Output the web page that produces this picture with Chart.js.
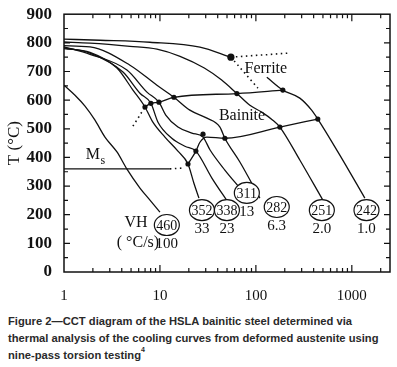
<!DOCTYPE html>
<html lang="en">
<head>
  <meta charset="UTF-8">
  <title>CCT diagram</title>
  <script src="https://cdn.jsdelivr.net/npm/chart.js"></script>
  <style>
    body { margin: 0; background: #fff; width: 397px; height: 367px; overflow: hidden; }
    #wrap { width: 397px; height: 300px; }
    .caption { font-family: "Liberation Sans", Arial, sans-serif; font-weight: bold; font-size: 11.2px; line-height: 17px; color: #2a2a2a; margin: 13px 0 0 8px; }
    .caption sup { font-size: 7px; vertical-align: top; line-height: 0; position: relative; top: 3px; }
  </style>
</head>
<body>
  <div id="wrap"><canvas id="cct" width="397" height="300"></canvas></div>
  <div class="caption">Figure 2&mdash;CCT diagram of the HSLA bainitic steel determined via<br>thermal analysis of the cooling curves from deformed austenite using<br>nine-pass torsion testing<sup>4</sup></div>

  <script>
    // cooling curves, [time (s), T (°C)]
    const curve460 = [[1,652],[1.302,617],[1.655,579],[2.104,530],[2.673,471],[3.565,419],[4.53,359],[6.19,293],[7.87,251],[10,209]];
    const curve352 = [[1,780],[1.866,767],[3.565,712],[5.23,635],[6.98,576],[8.44,523],[11.27,471],[15.4,422],[19.6,377],[22.6,310],[25.5,258]];
    const curve338 = [[1,783],[1.866,764],[4.118,698],[6.19,624],[8.05,589],[9.54,523],[13.3,467],[18.2,439],[23.7,422],[34.8,328],[51.1,244]];
    const curve311 = [[1,786],[1.866,760],[4.53,705],[7.32,628],[9.76,593],[11.5,548],[15.4,506],[21.5,485],[28.1,471],[33.3,426],[47.5,356],[68.1,293]];
    const curve282 = [[1,790],[1.866,786],[4.87,722],[9.31,652],[13.99,610],[20.5,565],[30.9,537],[42.2,506],[47.5,467],[68.1,384],[110,258]];
    const curve251 = [[1,803],[1.866,799],[4.87,788],[9.31,778],[16.2,753],[29,712],[44,670],[63.4,623],[86.6,582],[115,558],[150,530],[177.8,506],[287,391],[499,251]];
    const curve242a = [[1,813],[2.371,809],[7.87,802],[26.1,785],[54.9,750]];
    const curve242b = [[130,680],[191,635],[287,607],[381,565],[442,534],[750,408],[1366,258]];

    // transformation lines
    const bainiteStart = [[6.98,576],[8.05,589],[9.76,593],[13.99,610],[63.4,623],[191,635]];
    const bainiteStartDotted = [[5.23,509],[6.98,576]];
    const bainiteFinish = [[19.6,377],[23.7,422],[26.1,453],[30.9,471],[47.5,467],[177.8,506],[442,534]];
    const msLine = [[1,360],[12.7,360]];
    const msDotted = [[12.7,360],[17.4,363]];
    const ferriteDottedH = [[54.9,750],[215,764]];
    const ferriteDottedD = [[54.9,750],[104.9,642]];
    const dots = [[6.98,576],[8.05,589],[9.76,593],[13.99,610],[63.4,623],[191,635],
                  [19.6,377],[23.7,422],[28.1,481],[47.5,467],[177.8,506],[442,534],[54.9,750]];

    // hardness (VH) and cooling rate (°C/s) labels
    const hardness = ['460','352','338','311','282','251','242'];
    const rates = ['100','33','23','13','6.3','2.0','1.0'];
    const labelTime = [11.8,27.4,49.9,80.5,165,487,1422];
    const labelTemp = [164,216,216,276,227,216,216];

    const xTicks = [1, 10, 100, 1000];
    const serif = '"Liberation Serif", "Times New Roman", serif';
    const ink = '#111';

    const pts = arr => arr.map(p => ({x: p[0], y: p[1]}));
    const line = (arr, dashed) => ({
      data: pts(arr),
      borderColor: ink,
      borderWidth: dashed ? 1.6 : 1.3,
      borderDash: dashed ? [1.5, 3.5] : [],
      pointRadius: 0,
      cubicInterpolationMode: 'monotone',
      fill: false
    });

    const frameTicks = {
      id: 'frameTicks',
      afterDraw(chart) {
        const {ctx, chartArea: a, scales: {x, y}} = chart;
        ctx.save();
        ctx.strokeStyle = ink;
        ctx.lineWidth = 1.5;
        ctx.strokeRect(a.left, a.top, a.right - a.left, a.bottom - a.top);
        ctx.lineWidth = 1.2;
        ctx.beginPath();
        for (let t = 50; t < 900; t += 50) {
          const py = y.getPixelForValue(t);
          const len = t % 100 === 0 ? 6 : 4;
          ctx.moveTo(a.left, py); ctx.lineTo(a.left + len, py);
          ctx.moveTo(a.right, py); ctx.lineTo(a.right - len, py);
        }
        for (let d = 1; d <= 1000; d *= 10) {
          for (let m = 1; m < 10; m++) {
            const v = d * m;
            if (v > 2500 || v === 1) continue;
            const px = x.getPixelForValue(v);
            const len = m === 1 ? 7 : 4;
            ctx.moveTo(px, a.top); ctx.lineTo(px, a.top + len);
            ctx.moveTo(px, a.bottom); ctx.lineTo(px, a.bottom - len);
          }
        }
        ctx.stroke();
        ctx.restore();
      }
    };

    const notes = {
      id: 'notes',
      afterDatasetsDraw(chart) {
        const {ctx, scales: {x, y}} = chart;
        ctx.save();
        ctx.fillStyle = ink;
        ctx.strokeStyle = ink;
        ctx.lineWidth = 1.2;
        ctx.textAlign = 'center';
        ctx.textBaseline = 'middle';

        hardness.forEach((h, i) => {
          const px = x.getPixelForValue(labelTime[i]);
          const py = y.getPixelForValue(labelTemp[i]);
          ctx.fillStyle = '#fff';
          ctx.beginPath();
          ctx.ellipse(px, py, 12.5, 10.5, 0, 0, Math.PI * 2);
          ctx.fill();
          ctx.stroke();
          ctx.fillStyle = ink;
          ctx.font = '14px ' + serif;
          ctx.fillText(h, px, py + 1);
          ctx.font = '15px ' + serif;
          ctx.fillText(rates[i], px, py + 19);
        });

        ctx.font = '16px ' + serif;
        ctx.fillText('Ferrite', x.getPixelForValue(127), y.getPixelForValue(708));
        ctx.fillText('Bainite', x.getPixelForValue(71.7), y.getPixelForValue(544));
        ctx.fillText('VH', x.getPixelForValue(5.62), y.getPixelForValue(171));
        ctx.fillText('( °C/s)', x.getPixelForValue(5.9), y.getPixelForValue(101));
        ctx.fillText('M', x.getPixelForValue(2.0), y.getPixelForValue(408));
        ctx.font = '12px ' + serif;
        ctx.fillText('s', x.getPixelForValue(2.0) + 10, y.getPixelForValue(408) + 6);
        ctx.restore();
      }
    };

    new Chart(document.getElementById('cct'), {
      type: 'line',
      data: {
        datasets: [
          line(curve460), line(curve352), line(curve338), line(curve311),
          line(curve282), line(curve251), line(curve242a), line(curve242b),
          line(bainiteStart), line(bainiteFinish), line(msLine),
          line(bainiteStartDotted, true), line(msDotted, true),
          line(ferriteDottedH, true), line(ferriteDottedD, true),
          {
            data: pts(dots),
            showLine: false,
            pointRadius: dots.map((d, i) => i === dots.length - 1 ? 3.6 : 2.6),
            pointBackgroundColor: ink,
            pointBorderColor: ink,
            pointBorderWidth: 0
          }
        ]
      },
      options: {
        responsive: false,
        animation: false,
        layout: { padding: { left: 0, top: 13, right: 7, bottom: 0 } },
        plugins: { legend: { display: false }, tooltip: { enabled: false } },
        scales: {
          x: {
            type: 'logarithmic',
            min: 1,
            max: 2500,
            grid: { display: false },
            border: { display: false },
            afterBuildTicks: s => { s.ticks = xTicks.map(v => ({value: v})); },
            afterFit: s => { s.height = 28; },
            ticks: {
              color: ink,
              padding: 7,
              maxRotation: 0,
              autoSkip: false,
              font: { family: serif, size: 15 },
              callback: v => String(v)
            }
          },
          y: {
            min: 0,
            max: 900,
            grid: { display: false },
            border: { display: false },
            afterFit: s => { s.width = 64; },
            ticks: {
              stepSize: 100,
              color: ink,
              padding: 4,
              font: { family: serif, size: 17, weight: 'bold' }
            },
            title: {
              display: true,
              text: 'T (°C)',
              color: ink,
              font: { family: serif, size: 17 }
            }
          }
        }
      },
      plugins: [frameTicks, notes]
    });
  </script>
</body>
</html>
